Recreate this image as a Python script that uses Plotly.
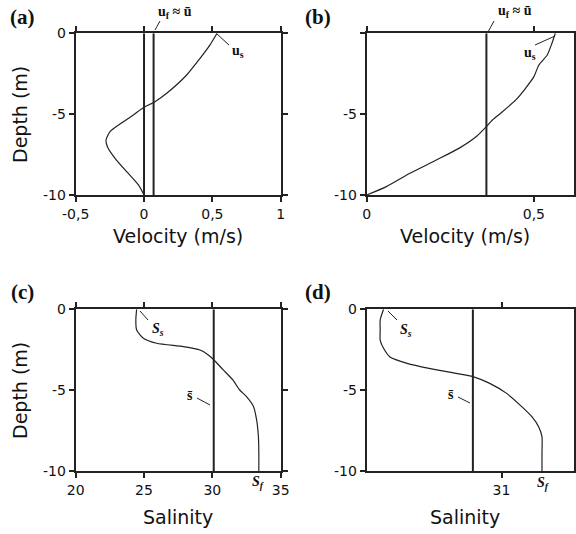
import plotly.graph_objects as go

W, H = 576, 534

# ---------------- data ----------------
# (a) velocity profile
depth_a = [0, -0.72, -1.55, -2.58, -3.71, -4.23, -4.58, -5.05, -5.61, -6.08, -6.6, -7.01, -7.73, -8.56, -9.38, -10]
vel_a = [0.534, 0.483, 0.41, 0.312, 0.166, 0.08, 0.0, -0.078, -0.176, -0.249, -0.278, -0.268, -0.212, -0.127, -0.041, 0.0]
ubar_a = 0.07
zero_a = 0.0

# (b) velocity profile
depth_b = [0, -0.62, -1.34, -1.96, -2.68, -3.4, -4.12, -4.85, -5.36, -5.77, -6.4, -7.1, -7.84, -8.66, -9.48, -10]
vel_b = [0.564, 0.554, 0.54, 0.515, 0.5, 0.475, 0.446, 0.406, 0.376, 0.358, 0.327, 0.277, 0.208, 0.129, 0.059, 0.0]
ubar_b = 0.358

# (c) salinity profile
depth_c = [0, -0.66, -1.28, -1.79, -2.1, -2.31, -2.52, -2.82, -3.09, -3.75, -4.37, -4.99, -5.4, -6.0, -6.85, -7.88, -8.9, -10]
sal_c = [24.46, 24.4, 24.46, 24.95, 25.93, 27.88, 29.1, 29.7, 30.07, 30.8, 31.5, 32.0, 32.5, 33.0, 33.24, 33.37, 33.4, 33.4]
sbar_c = 30.1

# (d) salinity profile
depth_d = [0, -0.66, -1.28, -1.9, -2.41, -2.97, -3.34, -3.65, -3.96, -4.16, -4.58, -5.2, -6.02, -6.64, -7.26, -7.88, -8.9, -10]
sal_d = [30.3, 30.28, 30.28, 30.28, 30.3, 30.34, 30.44, 30.57, 30.73, 30.83, 30.93, 31.03, 31.12, 31.18, 31.22, 31.24, 31.24, 31.24]
sbar_d = 30.83

# axis ticks
xt_a = [-0.5, 0, 0.5, 1]
xl_a = ["-0,5", "0", "0,5", "1"]
xt_b = [0, 0.5]
xl_b = ["0", "0,5"]
xt_c = [20, 25, 30, 35]
xl_c = ["20", "25", "30", "35"]
xt_d = [31]
xl_d = ["31"]
yt = [0, -5, -10]
yl = ["0", "-5", "-10"]
yl_b = ["", "-5", "-10"]

# ---------------- figure ----------------
LINE = "#222222"
fig = go.Figure()

def curve(x, y, xa, ya, width=1.2):
    fig.add_trace(go.Scatter(x=x, y=y, mode="lines", xaxis=xa, yaxis=ya,
                             line=dict(color=LINE, width=width, shape="spline", smoothing=0.6),
                             showlegend=False, hoverinfo="skip"))

def vline(xv, xa, ya):
    fig.add_trace(go.Scatter(x=[xv, xv], y=[-10, 0], mode="lines", xaxis=xa, yaxis=ya,
                             line=dict(color=LINE, width=2), showlegend=False, hoverinfo="skip"))

curve(vel_a, depth_a, "x", "y")
vline(zero_a, "x", "y")
vline(ubar_a, "x", "y")
curve(vel_b, depth_b, "x2", "y2")
vline(ubar_b, "x2", "y2")
curve(sal_c, depth_c, "x3", "y3")
vline(sbar_c, "x3", "y3")
curve(sal_d, depth_d, "x4", "y4")
vline(sbar_d, "x4", "y4")

def pdom(a, b):
    return [a / W, b / W]

def ydom(top, bot):
    return [1 - bot / H, 1 - top / H]

tickfont = dict(family="DejaVu Sans", size=14, color="#111")

def xax(dom, rng, tv, tl, anchor):
    return dict(domain=dom, range=rng, tickvals=tv, ticktext=tl, anchor=anchor,
                showgrid=False, zeroline=False, showline=True, linecolor=LINE, linewidth=2,
                mirror="ticks", ticks="outside", ticklen=5, tickwidth=1.5, tickcolor=LINE,
                tickfont=tickfont, fixedrange=True, automargin=False)

def yax(dom, tl, anchor):
    return dict(domain=dom, range=[-10, 0], tickvals=yt, ticktext=tl, anchor=anchor,
                showgrid=False, zeroline=False, showline=True, linecolor=LINE, linewidth=2,
                mirror="ticks", ticks="outside", ticklen=5, tickwidth=1.5, tickcolor=LINE,
                tickfont=tickfont, fixedrange=True, automargin=False)

XL = pdom(75.7, 280.7)
XR = pdom(366.7, 574)
YT = ydom(33.3, 195)
YB = ydom(309.3, 471)

fig.update_layout(
    width=W, height=H, margin=dict(l=0, r=0, t=0, b=0, pad=0, autoexpand=False),
    paper_bgcolor="white", plot_bgcolor="white", showlegend=False,
    xaxis=xax(XL, [-0.5, 1], xt_a, xl_a, "y"),
    yaxis=yax(YT, yl, "x"),
    xaxis2=xax(XR, [0, 0.62], xt_b, xl_b, "y2"),
    yaxis2=yax(YT, yl_b, "x2"),
    xaxis3=xax(XL, [20, 35], xt_c, xl_c, "y3"),
    yaxis3=yax(YB, yl, "x3"),
    xaxis4=xax(XR, [30.2, 31.43], xt_d, xl_d, "y4"),
    yaxis4=yax(YB, yl, "x4"),
)

def P(x, y):
    return x / W, 1 - y / H

ann = []

def text(x, y, s, size, family="DejaVu Sans", angle=0, bold=False):
    px, py = P(x, y)
    ann.append(dict(x=px, y=py, xref="paper", yref="paper", text=("<b>%s</b>" % s) if bold else s,
                    showarrow=False, xanchor="center", yanchor="middle", textangle=angle,
                    font=dict(family=family, size=size, color="#111")))

# axis titles
text(178, 236, "Velocity (m/s)", 19)
text(465, 236, "Velocity (m/s)", 19)
text(178, 517, "Salinity", 19)
text(465, 517, "Salinity", 19)
text(20, 115, "Depth (m)", 19, angle=-90)
text(20, 391, "Depth (m)", 19, angle=-90)

# panel labels
SERIF = "Liberation Serif"
text(22, 17, "(a)", 21, SERIF, bold=True)
text(318, 17, "(b)", 21, SERIF, bold=True)
text(22, 292, "(c)", 21, SERIF, bold=True)
text(318, 292, "(d)", 21, SERIF, bold=True)

# curve labels
LS = 14
text(175, 12, "u<sub>f</sub> ≈ ū", LS, SERIF, bold=True)
text(238, 51, "u<sub>s</sub>", LS, SERIF, bold=True)
text(515, 11, "u<sub>f</sub> ≈ ū", LS, SERIF, bold=True)
text(530, 53, "u<sub>s</sub>", LS, SERIF, bold=True)
text(158, 329, "<i>S<sub>s</sub></i>", LS, SERIF, bold=True)
text(258, 482, "<i>S<sub>f</sub></i>", LS, SERIF, bold=True)
text(190, 395, "s̄", LS, SERIF, bold=True)
text(406, 330, "<i>S<sub>s</sub></i>", LS, SERIF, bold=True)
text(543, 483, "<i>S<sub>f</sub></i>", LS, SERIF, bold=True)
text(451, 394, "s̄", LS, SERIF, bold=True)

fig.update_layout(annotations=ann)

# leader lines
def lead(x0, y0, x1, y1):
    a, b = P(x0, y0)
    c, d = P(x1, y1)
    fig.add_shape(type="line", xref="paper", yref="paper", x0=a, y0=b, x1=c, y1=d,
                  line=dict(color=LINE, width=1))

lead(155, 30, 160, 21)
lead(217, 34, 229, 45)
lead(488, 32, 494, 21)
lead(535, 45, 555, 36)
lead(140, 311, 148, 320)
lead(197, 398, 210, 405)
lead(388, 311, 397, 320)
lead(458, 397, 470, 403)

fig.write_html("out.html", config={"displayModeBar": False},
               post_script="document.body.style.margin='0';")
